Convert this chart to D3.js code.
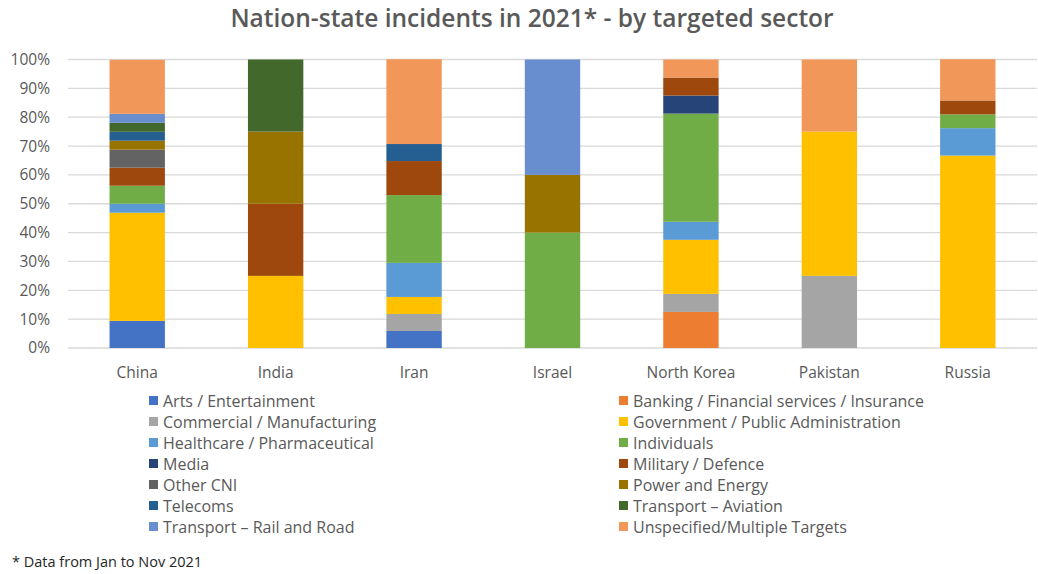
<!DOCTYPE html>
<html>
<head>
<meta charset="utf-8">
<script src="https://cdn.jsdelivr.net/npm/d3@7"></script>
<style>
  html, body { margin: 0; padding: 0; background: #fff; }
  svg { display: block; font-family: "Open Sans", "Noto Sans", sans-serif; }
</style>
</head>
<body>
<svg id="chart" width="1038" height="574"></svg>
<script>
// Countries along the x axis
const countries = ["China", "India", "Iran", "Israel", "North Korea", "Pakistan", "Russia"];

// Targeted sectors, in stacking / legend order
const sectors = [
  "Arts / Entertainment",
  "Banking / Financial services / Insurance",
  "Commercial / Manufacturing",
  "Government / Public Administration",
  "Healthcare / Pharmaceutical",
  "Individuals",
  "Media",
  "Military / Defence",
  "Other CNI",
  "Power and Energy",
  "Telecoms",
  "Transport \u2013 Aviation",
  "Transport \u2013 Rail and Road",
  "Unspecified/Multiple Targets"
];

const sectorColors = [
  "#4472C4", "#ED7D31", "#A5A5A5", "#FFC000", "#5B9BD5", "#70AD47", "#264478",
  "#9E480E", "#636363", "#997300", "#255E91", "#43682B", "#698ED0", "#F1975A"
];

// Share of incidents (%) per sector, one value per country (same order as countries)
const artsEntertainment   = [9.4, 0,  5.9,  0,  0,     0,  0];
const bankingFinance      = [0,   0,  0,    0,  12.5,  0,  0];
const commercialManuf     = [0,   0,  5.9,  0,  6.25,  25, 0];
const governmentAdmin     = [37.5, 25, 5.9, 0,  18.75, 50, 66.7];
const healthcarePharma    = [3.1, 0,  11.8, 0,  6.25,  0,  9.5];
const individuals         = [6.25, 0, 23.5, 40, 37.5,  0,  4.8];
const media               = [0,   0,  0,    0,  6.25,  0,  0];
const militaryDefence     = [6.25, 25, 11.8, 0, 6.25,  0,  4.8];
const otherCNI            = [6.25, 0, 0,    0,  0,     0,  0];
const powerEnergy         = [3.1, 25, 0,    20, 0,     0,  0];
const telecoms            = [3.1, 0,  5.9,  0,  0,     0,  0];
const transportAviation   = [3.1, 25, 0,    0,  0,     0,  0];
const transportRailRoad   = [3.1, 0,  0,    40, 0,     0,  0];
const unspecifiedMultiple = [18.75, 0, 29.4, 0, 6.25,  25, 14.3];

const yTicks = [0, 10, 20, 30, 40, 50, 60, 70, 80, 90, 100];

const seriesValues = [
  artsEntertainment, bankingFinance, commercialManuf, governmentAdmin,
  healthcarePharma, individuals, media, militaryDefence, otherCNI,
  powerEnergy, telecoms, transportAviation, transportRailRoad, unspecifiedMultiple
];

// Build one row per country for d3.stack
const rows = countries.map((c, i) => {
  const r = { country: c };
  sectors.forEach((s, j) => { r[s] = seriesValues[j][i]; });
  return r;
});

const svg = d3.select("#chart");
const plotLeft = 68, plotRight = 1037;

const x = d3.scaleBand()
  .domain(countries)
  .range([plotLeft, plotRight])
  .paddingInner(0.6)
  .paddingOuter(0.3);

const y = d3.scaleLinear().domain([0, 100]).range([348, 59.5]);

const color = d3.scaleOrdinal().domain(sectors).range(sectorColors);

// Title
svg.append("text")
  .attr("x", 532).attr("y", 27)
  .attr("text-anchor", "middle")
  .attr("font-size", 24.5).attr("font-weight", 600)
  .attr("fill", "#595959")
  .text("Nation-state incidents in 2021* - by targeted sector");

// Gridlines
svg.append("g")
  .selectAll("line")
  .data(yTicks)
  .join("line")
  .attr("x1", plotLeft).attr("x2", plotRight)
  .attr("y1", d => y(d)).attr("y2", d => y(d))
  .attr("stroke", "#d9d9d9").attr("stroke-width", 1.3);

// Y axis labels
const yAxis = d3.axisLeft(y).tickValues(yTicks).tickFormat(d => d + "%").tickSize(0).tickPadding(0);
const yg = svg.append("g").attr("transform", "translate(50,0)").call(yAxis);
yg.select(".domain").remove();
yg.selectAll("text").attr("font-size", 15.5).attr("fill", "#595959")
  .attr("font-family", "'Open Sans', sans-serif");

// Stacked bars
const stacked = d3.stack().keys(sectors)(rows);
svg.append("g")
  .selectAll("g")
  .data(stacked)
  .join("g")
  .attr("fill", d => color(d.key))
  .selectAll("rect")
  .data(d => d)
  .join("rect")
  .attr("x", d => x(d.data.country))
  .attr("width", x.bandwidth())
  .attr("y", d => y(d[1]))
  .attr("height", d => Math.max(0, y(d[0]) - y(d[1])));

// X axis labels
const xAxis = d3.axisBottom(x).tickSize(0).tickPadding(0);
const xg = svg.append("g").attr("transform", "translate(0,378)").call(xAxis);
xg.select(".domain").remove();
xg.selectAll("text").attr("font-size", 15.5).attr("fill", "#595959")
  .attr("font-family", "'Open Sans', sans-serif").attr("dy", 0);

// Legend: two columns, filled row by row
const legend = svg.append("g");
const items = legend.selectAll("g")
  .data(sectors)
  .join("g")
  .attr("transform", (d, i) => {
    const col = i % 2, row = Math.floor(i / 2);
    return `translate(${col === 0 ? 149 : 619},${401 + row * 21})`;
  });
items.append("rect")
  .attr("x", 0).attr("y", -5).attr("width", 9).attr("height", 9)
  .attr("fill", d => color(d));
items.append("text")
  .attr("x", 14).attr("y", 5.5)
  .attr("font-size", 16).attr("fill", "#595959")
  .text(d => d);

// Footnote
svg.append("text")
  .attr("x", 12).attr("y", 567)
  .attr("font-size", 14.5).attr("fill", "#262626")
  .text("* Data from Jan to Nov 2021");
</script>
</body>
</html>
